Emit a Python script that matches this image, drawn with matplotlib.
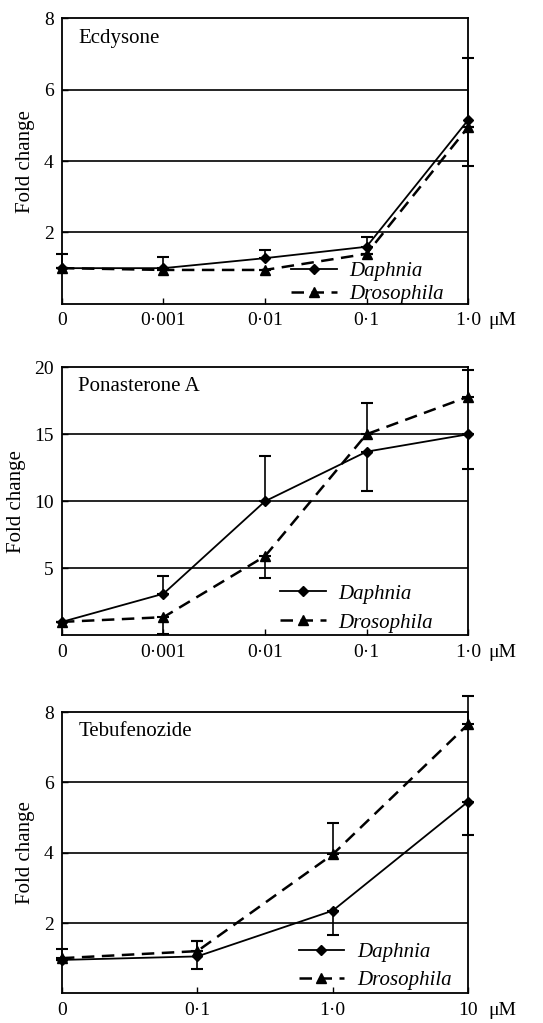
import numpy as np
import matplotlib
matplotlib.use("Agg")
import matplotlib.pyplot as plt
from matplotlib.lines import Line2D

plt.rcParams["font.family"] = ["Liberation Serif", "DejaVu Serif"]
plt.rcParams["font.size"] = 14

# Ecdysone
ecd_labels = ["0", "0·001", "0·01", "0·1", "1·0"]
ecd_daphnia = [1.0, 1.0, 1.28, 1.6, 5.15]
ecd_daphnia_lo = [0, 0, 0, 0, 1.3]
ecd_daphnia_up = [0.4, 0.3, 0.22, 0.27, 1.75]
ecd_dros = [1.0, 0.95, 0.95, 1.4, 4.95]
ecd_dros_lo = [0, 0, 0, 0, 0]
ecd_dros_up = [0, 0, 0, 0, 0]

# Ponasterone A
pon_labels = ["0", "0·001", "0·01", "0·1", "1·0"]
pon_daphnia = [1.0, 3.1, 10.0, 13.7, 15.0]
pon_daphnia_lo = [0, 0, 0, 2.9, 2.6]
pon_daphnia_up = [0, 1.3, 3.4, 0, 0]
pon_dros = [1.0, 1.35, 5.9, 15.0, 17.8]
pon_dros_lo = [0, 1.25, 1.6, 0, 0]
pon_dros_up = [0, 0, 0, 2.3, 2.0]

# Tebufenozide
teb_labels = ["0", "0·1", "1·0", "10"]
teb_daphnia = [0.95, 1.05, 2.35, 5.45]
teb_daphnia_lo = [0, 0.35, 0.7, 0.95]
teb_daphnia_up = [0, 0.45, 0, 0]
teb_dros = [1.0, 1.2, 3.95, 7.65]
teb_dros_lo = [0, 0, 0, 0]
teb_dros_up = [0.25, 0.3, 0.9, 0.8]

fig = plt.figure(figsize=(5.43, 10.23), dpi=100)
ax1 = fig.add_axes([0.114, 0.703, 0.748, 0.279])
ax2 = fig.add_axes([0.114, 0.379, 0.748, 0.262])
ax3 = fig.add_axes([0.114, 0.029, 0.748, 0.275])

DASH = (0, (5, 3))


def panel(ax, title, labels, daph, daph_err, dros, dros_err, ymax, yticks, leg):
    x = np.arange(len(labels))
    for yt in yticks:
        ax.axhline(yt, color="black", lw=1.2, zorder=1)
    # error bars only, lines drawn separately
    for vals, err in ((dros, dros_err), (daph, daph_err)):
        eb = ax.errorbar(x, vals, yerr=err, fmt="none", ecolor="black",
                         capsize=4, elinewidth=1.2, capthick=1.5, zorder=2)
        for art in eb.lines[1] + eb.lines[2]:
            art.set_clip_on(False)
    ax.plot(x, dros, color="black", ls=DASH, lw=1.8, marker="^", ms=6.5,
            zorder=3, clip_on=False)
    ax.plot(x, daph, color="black", ls="-", lw=1.3, marker="D", ms=5,
            zorder=4, clip_on=False)
    ax.set_xlim(0, len(labels) - 1)
    ax.set_ylim(0, ymax)
    ax.set_xticks(x)
    ax.set_xticklabels(labels)
    ax.set_yticks(yticks + [ymax])
    ax.set_yticklabels([str(v) for v in yticks + [ymax]])
    ax.tick_params(direction="in", length=4, width=1, pad=6)
    for s in ax.spines.values():
        s.set_linewidth(1.3)
    ax.set_ylabel("Fold change", fontsize=15, labelpad=6)
    ax.text(0.04, 0.93, title, transform=ax.transAxes, fontsize=15,
            ha="left", va="center")
    ax.annotate("μM", xy=(1, 0), xycoords="axes fraction", xytext=(25, -6),
                textcoords="offset points", ha="center", va="top")
    handles = [Line2D([], [], color="black", ls="-", lw=1.3, marker="D", ms=5),
               Line2D([], [], color="black", ls=DASH, lw=1.8, marker="^", ms=6.5)]
    lx, ly, lsp = leg
    ax.legend(handles, ["Daphnia", "Drosophila"], loc="lower right",
              bbox_to_anchor=(lx, ly), borderaxespad=0.2, frameon=False,
              handlelength=2.2, handletextpad=0.6, labelspacing=lsp,
              prop={"style": "italic", "size": 15})


panel(ax1, "Ecdysone", ecd_labels, ecd_daphnia, [ecd_daphnia_lo, ecd_daphnia_up],
      ecd_dros, [ecd_dros_lo, ecd_dros_up], 8, [2, 4, 6], (0.972, -0.045, 0.15))
panel(ax2, "Ponasterone A", pon_labels, pon_daphnia, [pon_daphnia_lo, pon_daphnia_up],
      pon_dros, [pon_dros_lo, pon_dros_up], 20, [5, 10, 15], (0.945, -0.037, 0.45))
panel(ax3, "Tebufenozide", teb_labels, teb_daphnia, [teb_daphnia_lo, teb_daphnia_up],
      teb_dros, [teb_dros_lo, teb_dros_up], 8, [2, 4, 6], (0.99, -0.032, 0.4))

fig.savefig("out.png", dpi=100)
